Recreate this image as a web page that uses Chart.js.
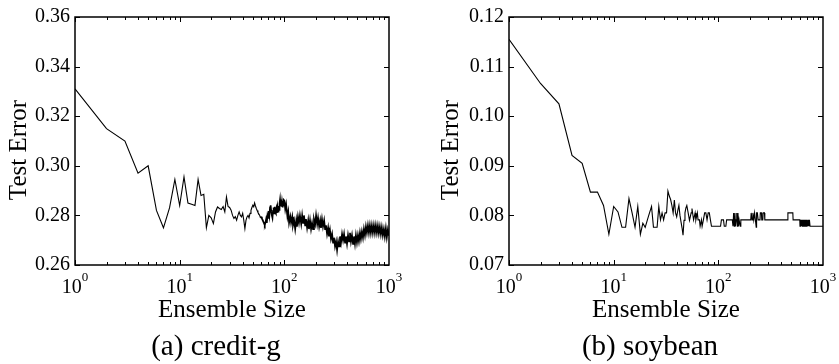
<!DOCTYPE html>
<html>
<head>
<meta charset="utf-8">
<script src="https://cdn.jsdelivr.net/npm/chart.js@4.4.1/dist/chart.umd.min.js"></script>
<style>
  html, body { margin: 0; padding: 0; background: #fff; }
  body { width: 839px; height: 364px; position: relative; overflow: hidden; font-family: "Liberation Serif", serif; }
  canvas { position: absolute; top: 0; }
  #chartA { left: 0; }
  #chartB { left: 420px; }
  .caption { position: absolute; top: 328px; font-size: 29px; line-height: 34px; color: #000; white-space: nowrap; transform: translateX(-50%); }
</style>
</head>
<body>
<canvas id="chartA" width="420" height="330"></canvas>
<canvas id="chartB" width="419" height="330"></canvas>
<div class="caption" style="left:216px">(a) credit-g</div>
<div class="caption" style="left:650px">(b) soybean</div>
<script>
// credit-g: test error against ensemble size
const creditSizes = [
  1, 2, 3, 4, 5, 6, 7, 8, 9, 10,
  11, 12, 13, 14, 15, 16, 17, 18, 19, 20,
  21, 22, 23, 24, 25, 26, 27, 28, 29, 30,
  31, 32, 33, 34, 35, 36, 37, 38, 39, 40,
  41, 42, 43, 44, 45, 46, 47, 48, 49, 50,
  51, 52, 53, 54, 55, 56, 57, 58, 59, 60,
  61, 62, 63, 64, 65, 66, 67, 68, 69, 70,
  71, 72, 73, 74, 75, 76, 77, 78, 79, 80,
  81, 82, 83, 84, 85, 86, 87, 88, 89, 90,
  91, 92, 93, 94, 95, 96, 97, 98, 99,
  100, 102, 104, 107, 109, 111, 114, 116, 119, 121,
  124, 127, 130, 132, 135, 138, 141, 145, 148, 151,
  154, 158, 161, 165, 169, 172, 176, 180, 184, 188,
  192, 197, 201, 206, 210, 215, 220, 224, 229, 234,
  240, 245, 250, 256, 262, 267, 273, 279, 286, 292,
  298, 305, 312, 319, 326, 333, 340, 348, 356, 364,
  372, 380, 388, 397, 406, 415, 424, 433, 443, 453,
  463, 473, 483, 494, 505, 516, 528, 539, 551, 564,
  576, 589, 602, 615, 629, 643, 657, 671, 686, 701,
  717, 733, 749, 766, 783, 800, 818, 836, 854, 873,
  893, 912, 933, 953, 975, 1000
];
const creditErrors = [
  0.331, 0.315, 0.310, 0.297, 0.300, 0.282, 0.275, 0.283, 0.2945, 0.284,
  0.2955, 0.285, 0.2845, 0.284, 0.2945, 0.288, 0.2885, 0.275, 0.280, 0.279,
  0.2767, 0.2814, 0.2834, 0.2828, 0.2824, 0.2836, 0.2814, 0.2874, 0.2836, 0.2832,
  0.2821, 0.2800, 0.2788, 0.2795, 0.2781, 0.2800, 0.2814, 0.2800, 0.2794, 0.2808,
  0.2780, 0.2747, 0.2780, 0.2794, 0.2800, 0.2790, 0.2808, 0.2820, 0.2832, 0.2841,
  0.2835, 0.2850, 0.2838, 0.2828, 0.2820, 0.2812, 0.2806, 0.2801, 0.2792, 0.2795,
  0.2788, 0.2782, 0.2775, 0.2768, 0.2761, 0.2770, 0.2785, 0.2770, 0.2800, 0.2790,
  0.2818, 0.2800, 0.2832, 0.2841, 0.2815, 0.2800, 0.2790, 0.2818, 0.2832, 0.2808,
  0.2835, 0.2812, 0.2808, 0.2825, 0.2810, 0.2832, 0.2815, 0.2838, 0.2822, 0.2848,
  0.2864, 0.2838, 0.2860, 0.2835, 0.2855, 0.2832, 0.2858, 0.2840, 0.2862,
  0.2860, 0.2825, 0.2845, 0.2795, 0.2815, 0.2770, 0.2795, 0.2770, 0.2795, 0.2760,
  0.2780, 0.2745, 0.2780, 0.2755, 0.2795, 0.2770, 0.2800, 0.2765, 0.2800, 0.2770,
  0.2800, 0.2760, 0.2785, 0.2750, 0.2780, 0.2745, 0.2780, 0.2745, 0.2770, 0.2745,
  0.2785, 0.2765, 0.2800, 0.2765, 0.2790, 0.2755, 0.2780, 0.2750, 0.2785, 0.2755,
  0.2780, 0.2745, 0.2760, 0.2725, 0.2750, 0.2715, 0.2740, 0.2705, 0.2725, 0.2690,
  0.2710, 0.2675, 0.2695, 0.2660, 0.2695, 0.2675, 0.2715, 0.2690, 0.2725, 0.2700,
  0.2725, 0.2690, 0.2715, 0.2685, 0.2720, 0.2695, 0.2730, 0.2695, 0.2720, 0.2685,
  0.2715, 0.2685, 0.2720, 0.2690, 0.2720, 0.2695, 0.2730, 0.2705, 0.2735, 0.2710,
  0.2745, 0.2720, 0.2755, 0.2730, 0.2760, 0.2730, 0.2760, 0.2730, 0.2760, 0.2730,
  0.2760, 0.2730, 0.2760, 0.2730, 0.2758, 0.2728, 0.2755, 0.2725, 0.2752, 0.2720,
  0.2745, 0.2715, 0.2748, 0.2712, 0.2742, 0.2718
];

// soybean: test error against ensemble size
const soySizes = [
  1, 2, 3, 4, 5, 6, 7, 8, 9, 10,
  11, 12, 13, 14, 15, 16, 17, 18, 19, 20,
  21, 22, 23, 24, 25, 26, 27, 28, 29, 30,
  31, 32, 33, 34, 35, 36, 37, 38, 39, 40,
  41, 42, 43, 44, 45, 46, 47, 48, 49, 50,
  52, 53, 55, 56, 58, 60, 61, 63, 64, 66,
  67, 69, 70, 72, 74, 76, 78, 80, 82, 84,
  86, 105, 107, 112, 114, 118, 120, 136, 138, 140,
  142, 144, 146, 148, 150, 152, 154, 156, 158, 162,
  164, 204, 206, 210, 214, 218, 222, 226, 230, 232,
  236, 240, 250, 252, 258, 260, 266, 268, 276, 278,
  460, 462, 515, 518, 600, 603, 608, 613, 618, 624,
  630, 636, 642, 648, 655, 662, 670, 678, 686, 694,
  702, 712, 722, 732, 742, 752, 1000
];
const soyErrors = [
  0.1155, 0.1066, 0.1025, 0.0921, 0.0905, 0.0847, 0.0847, 0.0820, 0.0762, 0.0818,
  0.0807, 0.0776, 0.0776, 0.0834, 0.0805, 0.0776, 0.0818, 0.0762, 0.0784, 0.0776,
  0.0791, 0.0805, 0.0818, 0.0776, 0.0776, 0.0776, 0.0818, 0.0791, 0.0805, 0.0791,
  0.0805, 0.0805, 0.0849, 0.0839, 0.0832, 0.0820, 0.0805, 0.0831, 0.0805, 0.0797,
  0.0810, 0.0820, 0.0800, 0.0787, 0.0775, 0.0760, 0.0790, 0.0805, 0.0815, 0.0820,
  0.0800, 0.0790, 0.0805, 0.0814, 0.0791, 0.0805, 0.0791, 0.0805, 0.0791, 0.0791,
  0.0778, 0.0791, 0.0778, 0.0791, 0.0805, 0.0805, 0.0791, 0.0805, 0.0805, 0.0791,
  0.0778, 0.0778, 0.0791, 0.0791, 0.0778, 0.0778, 0.0791, 0.0791, 0.0778, 0.0805,
  0.0778, 0.0805, 0.0778, 0.0791, 0.0805, 0.0778, 0.0805, 0.0778, 0.0791, 0.0778,
  0.0791, 0.0791, 0.0805, 0.0791, 0.0805, 0.0791, 0.0805, 0.0791, 0.0776, 0.0805,
  0.0805, 0.0791, 0.0791, 0.0805, 0.0805, 0.0791, 0.0791, 0.0805, 0.0805, 0.0791,
  0.0791, 0.0805, 0.0805, 0.0791, 0.0791, 0.0778, 0.0791, 0.0778, 0.0791, 0.0778,
  0.0791, 0.0778, 0.0791, 0.0778, 0.0791, 0.0778, 0.0791, 0.0778, 0.0791, 0.0778,
  0.0791, 0.0778, 0.0791, 0.0778, 0.0791, 0.0778, 0.0778
];

const decades = [0, 1, 2, 3];
const serif = 'Liberation Serif';

// box round the plot, inward ticks on all four sides, 10^n labels and the y title
const frameAndTicks = {
  id: 'frameAndTicks',
  afterDatasetsDraw(chart, args, opts) {
    const {ctx, chartArea: a, scales: {x, y}} = chart;
    ctx.save();
    ctx.strokeStyle = '#000';
    ctx.lineWidth = 1;
    ctx.beginPath();
    for (let d = 0; d < 3; d++) {
      for (let m = 1; m < 10; m++) {
        const px = Math.round(x.getPixelForValue(m * Math.pow(10, d))) + 0.5;
        const len = m === 1 ? 5 : 3;
        ctx.moveTo(px, a.bottom); ctx.lineTo(px, a.bottom - len);
        ctx.moveTo(px, a.top); ctx.lineTo(px, a.top + len);
      }
    }
    y.ticks.forEach(t => {
      const py = Math.round(y.getPixelForValue(t.value)) + 0.5;
      ctx.moveTo(a.left, py); ctx.lineTo(a.left + 5, py);
      ctx.moveTo(a.right, py); ctx.lineTo(a.right - 5, py);
    });
    ctx.stroke();
    ctx.lineWidth = 1.5;
    ctx.strokeRect(a.left, a.top, a.right - a.left, a.bottom - a.top);

    ctx.fillStyle = '#000';
    ctx.textAlign = 'left';
    ctx.textBaseline = 'alphabetic';
    decades.forEach(d => {
      const px = x.getPixelForValue(Math.pow(10, d));
      ctx.font = '20px "' + serif + '"';
      const wBase = ctx.measureText('10').width;
      ctx.font = '13px "' + serif + '"';
      const wExp = ctx.measureText(String(d)).width;
      const left = px - (wBase + wExp) / 2;
      ctx.font = '20px "' + serif + '"';
      ctx.fillText('10', left, a.bottom + 28);
      ctx.font = '13px "' + serif + '"';
      ctx.fillText(String(d), left + wBase, a.bottom + 16);
    });

    // y title, sitting a little below the middle of the axis
    ctx.translate(opts.titleX, (a.top + a.bottom) / 2 + 9);
    ctx.rotate(-Math.PI / 2);
    ctx.font = '25px "' + serif + '"';
    ctx.textAlign = 'center';
    ctx.textBaseline = 'middle';
    ctx.fillText('Test Error', 0, 0);
    ctx.restore();
  }
};

function makeChart(id, sizes, errors, yMin, yMax, yStep, yWidth, padRight, titleX, denseFrom) {
  const points = sizes.map((n, i) => ({x: n, y: errors[i]}));
  return new Chart(document.getElementById(id), {
    type: 'line',
    data: {
      datasets: [{
        data: points,
        borderColor: '#000',
        borderWidth: 1.1,
        // the tightly packed tail reads as a heavier band
        segment: {
          borderWidth: c => c.p0.parsed.x >= denseFrom ? 1.7 : 1.1
        },
        pointRadius: 0,
        fill: false,
        tension: 0
      }]
    },
    options: {
      responsive: false,
      animation: false,
      devicePixelRatio: 1,
      layout: {padding: {top: 16, right: padRight, left: 0, bottom: 0}},
      plugins: {
        legend: {display: false},
        tooltip: {enabled: false},
        frameAndTicks: {titleX: titleX}
      },
      scales: {
        x: {
          type: 'logarithmic',
          min: 1,
          max: 1000,
          grid: {display: false, drawTicks: false},
          border: {display: false},
          ticks: {display: false},
          title: {display: true, text: 'Ensemble Size', color: '#000',
                  font: {family: serif, size: 25}, padding: {top: 0, bottom: 5}},
          afterFit: s => { s.height = 65; }
        },
        y: {
          min: yMin,
          max: yMax,
          grid: {display: false, drawTicks: false},
          border: {display: false},
          ticks: {stepSize: yStep, padding: 5, color: '#000',
                  font: {family: serif, size: 20},
                  callback: v => v.toFixed(2)},
          afterFit: s => { s.width = yWidth; }
        }
      }
    },
    plugins: [frameAndTicks]
  });
}

makeChart('chartA', creditSizes, creditErrors, 0.26, 0.36, 0.02, 75, 31, 19, 60);
makeChart('chartB', soySizes, soyErrors, 0.07, 0.12, 0.01, 89, 16, 31, 2000);
</script>
</body>
</html>
